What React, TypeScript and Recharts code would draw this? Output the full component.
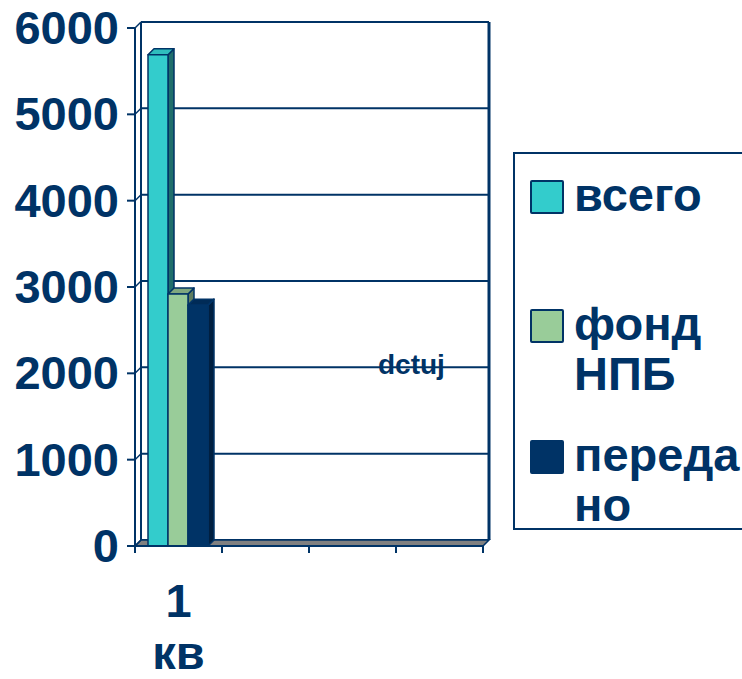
import React from 'react';
import {
  BarChart,
  Bar,
  XAxis,
  YAxis,
  CartesianGrid,
  Legend,
  ReferenceArea,
} from 'recharts';

const quarters = ['1 кв', '', '', ''];
const totalValues = [5690, null, null, null];
const fundValues = [2920, null, null, null];
const transferredValues = [2790, null, null, null];
const yTicks = [0, 1000, 2000, 3000, 4000, 5000, 6000];

const seriesNames = ['всего', 'фонд\nНПБ', 'переда\nно'];
const COLORS = ['#33CCCC', '#99CC99', '#003366'];
const SIDE_COLORS = ['#1f6e6c', '#5f7d5f', '#001f40'];
const TOP_COLORS = ['#2fbdbd', '#7fa87f', '#002b57'];

const NAVY = '#003366';
const FONT = '"Liberation Sans", Arial, sans-serif';
const BIG = 47;
const D = 6; // 3d depth

const data = quarters.map((q, i) => ({
  quarter: q,
  total: totalValues[i],
  fund: fundValues[i],
  transferred: transferredValues[i],
}));

const makeBox = (idx: number) => (props: any) => {
  const { x, y, width, height } = props;
  if (!height || height <= 0) return <g />;
  return (
    <g stroke={NAVY} strokeWidth={1.5} strokeLinejoin="round">
      <polygon
        points={`${x + width},${y} ${x + width + D},${y - D} ${x + width + D},${y + height - D} ${x + width},${y + height}`}
        fill={SIDE_COLORS[idx]}
      />
      <polygon
        points={`${x},${y} ${x + D},${y - D} ${x + width + D},${y - D} ${x + width},${y}`}
        fill={TOP_COLORS[idx]}
      />
      <rect x={x} y={y} width={width} height={height} fill={COLORS[idx]} />
    </g>
  );
};

const BackWall = (props: any) => {
  const { x, y, width, height } = props;
  const bottom = y + height;
  return (
    <g>
      <polygon
        points={`${x},${bottom} ${x + width},${bottom} ${x + width + D},${bottom - D} ${x + D},${bottom - D}`}
        fill="#808080"
        stroke={NAVY}
        strokeWidth={1.5}
      />
      <line x1={x + D} y1={y - D} x2={x + D} y2={bottom - D} stroke={NAVY} strokeWidth={2} />
      <line x1={x + width + D} y1={y - D} x2={x + width + D} y2={bottom - D} stroke={NAVY} strokeWidth={3} />
    </g>
  );
};

const GridLine = (props: any) => {
  const { x1, y1, x2, index } = props;
  return (
    <line
      key={`grid-${index}-${y1}`}
      x1={x1 + D}
      y1={y1 - D}
      x2={x2 + D}
      y2={y1 - D}
      stroke={NAVY}
      strokeWidth={2}
    />
  );
};

const YTick = (props: any) => {
  const { x, y, payload } = props;
  return (
    <g>
      <line x1={x - 8} y1={y} x2={x} y2={y} stroke={NAVY} strokeWidth={2} />
      <line x1={x} y1={y} x2={x + D} y2={y - D} stroke={NAVY} strokeWidth={1.5} />
      <text
        x={x - 16}
        y={y}
        dy={16}
        textAnchor="end"
        fill={NAVY}
        fontFamily={FONT}
        fontWeight="bold"
        fontSize={BIG}
      >
        {payload.value}
      </text>
    </g>
  );
};

const XTick = (props: any) => {
  const { x, y, payload, index } = props;
  const half = payload.offset ?? 43.5;
  const parts = String(payload.value).split(' ');
  return (
    <g>
      <line x1={x - half} y1={y} x2={x - half} y2={y + 7} stroke={NAVY} strokeWidth={2} />
      {index === quarters.length - 1 && (
        <line x1={x + half} y1={y} x2={x + half} y2={y + 7} stroke={NAVY} strokeWidth={2} />
      )}
      {parts[0] && (
        <text x={x} y={y} dy={71} textAnchor="middle" fill={NAVY} fontFamily={FONT} fontWeight="bold" fontSize={BIG}>
          {parts[0]}
        </text>
      )}
      {parts[1] && (
        <text x={x} y={y} dy={123} textAnchor="middle" fill={NAVY} fontFamily={FONT} fontWeight="bold" fontSize={BIG}>
          {parts[1]}
        </text>
      )}
    </g>
  );
};

const itemTops = [16, 145, 276];

const LegendBox = (props: any) => {
  const { payload = [] } = props;
  const ordered = [...payload].sort(
    (a: any, b: any) => seriesNames.indexOf(a.value) - seriesNames.indexOf(b.value),
  );
  return (
    <div
      style={{
        position: 'relative',
        width: 240,
        height: 378,
        boxSizing: 'border-box',
        border: `2px solid ${NAVY}`,
        background: 'white',
        fontFamily: FONT,
        fontWeight: 'bold',
        fontSize: BIG,
        color: NAVY,
      }}
    >
      {ordered.map((entry: any, i: number) => (
        <div key={`item-${i}`} style={{ position: 'absolute', left: 15, top: itemTops[i], display: 'flex' }}>
          <div
            style={{
              width: 30,
              height: 30,
              marginTop: 10,
              background: entry.color,
              border: `2px solid ${NAVY}`,
              borderRadius: 2,
            }}
          />
          <div style={{ marginLeft: 10, whiteSpace: 'pre-line', lineHeight: '50px' }}>{entry.value}</div>
        </div>
      ))}
    </div>
  );
};

const App: React.FC = () => {
  return (
    <div
      style={{
        position: 'absolute',
        left: 0,
        top: 0,
        width: 742,
        height: 679,
        overflow: 'hidden',
        background: 'white',
      }}
    >
      <BarChart
        width={742}
        height={679}
        data={data}
        margin={{ top: 28, right: 259, left: 0, bottom: 0 }}
        barCategoryGap={13}
        barGap={0}
      >
        <CartesianGrid vertical={false} horizontal={GridLine} />
        <ReferenceArea y1={0} y2={6000} shape={BackWall} />
        <XAxis
          dataKey="quarter"
          height={133}
          tickLine={false}
          tickSize={0}
          tickMargin={0}
          axisLine={{ stroke: NAVY, strokeWidth: 2 }}
          tick={XTick}
          interval={0}
        />
        <YAxis
          width={135}
          domain={[0, 6000]}
          ticks={yTicks}
          tickLine={false}
          tickSize={0}
          tickMargin={0}
          axisLine={{ stroke: NAVY, strokeWidth: 2 }}
          tick={YTick}
          interval={0}
        />
        <Legend
          layout="vertical"
          align="center"
          verticalAlign="middle"
          content={<LegendBox />}
          wrapperStyle={{ left: 513, top: 152, width: 240, height: 378 }}
        />
        <Bar dataKey="total" name={seriesNames[0]} fill={COLORS[0]} shape={makeBox(0)} isAnimationActive={false} />
        <Bar dataKey="fund" name={seriesNames[1]} fill={COLORS[1]} shape={makeBox(1)} isAnimationActive={false} />
        <Bar dataKey="transferred" name={seriesNames[2]} fill={COLORS[2]} shape={makeBox(2)} isAnimationActive={false} />
      </BarChart>
      <div
        style={{
          position: 'absolute',
          left: 378,
          top: 349,
          fontFamily: FONT,
          fontWeight: 'bold',
          fontSize: 28,
          color: NAVY,
          pointerEvents: 'none',
        }}
      >
        dctuj
      </div>
    </div>
  );
};

export default App;
